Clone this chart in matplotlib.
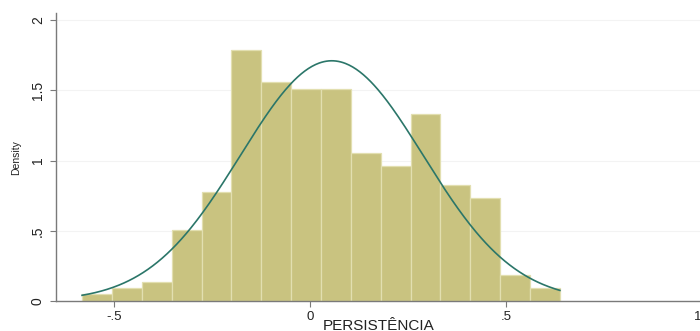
import numpy as np
import matplotlib
matplotlib.use("Agg")
import matplotlib.pyplot as plt

plt.rcParams['font.family'] = ['Liberation Sans', 'DejaVu Sans']

# Histogram data (density)
bin_start = -0.5825
bin_width = 0.0763
densities = [0.048, 0.090, 0.137, 0.505, 0.778, 1.790, 1.559, 1.511,
             1.511, 1.056, 0.963, 1.333, 0.826, 0.731, 0.185, 0.090]
# Normal fit parameters
fit_mean = 0.0555
fit_sd = 0.2333

xticks = [-0.5, 0, 0.5, 1]
xticklabels = ['-.5', '0', '.5', '1']
yticks = [0, 0.5, 1, 1.5, 2]
yticklabels = ['0', '.5', '1', '1.5', '2']

W, H = 700, 331
fig = plt.figure(figsize=(W / 100, H / 100), dpi=100)
ax = fig.add_axes([56 / W, 30 / H, 645.5 / W, 287.7 / H])

n = len(densities)
lefts = bin_start + bin_width * np.arange(n)
ax.bar(lefts, densities, width=bin_width, align='edge', color='#c9c380',
       edgecolor='#e2dfb0', linewidth=0.9, zorder=2)

xmin = bin_start
xmax = bin_start + bin_width * n
xs = np.linspace(xmin, xmax, 400)
ys = np.exp(-0.5 * ((xs - fit_mean) / fit_sd) ** 2) / (fit_sd * np.sqrt(2 * np.pi))
ax.plot(xs, ys, color='#2b7669', linewidth=1.2, zorder=3)

ax.set_xlim(-0.649, 1.0)
ax.set_ylim(0, 2.048)

ax.set_xticks(xticks)
ax.set_xticklabels(xticklabels, fontsize=9.5)
ax.get_xticklabels()[-1].set_horizontalalignment('right')
ax.set_yticks(yticks)
ax.set_yticklabels(yticklabels, fontsize=10, rotation=90, va='center')

for y in yticks[1:]:
    ax.axhline(y, color='#f3f3f3', linewidth=0.8, zorder=1)

for s in ['top', 'right']:
    ax.spines[s].set_visible(False)
for s in ['left', 'bottom']:
    ax.spines[s].set_color('#7a7a7a')
    ax.spines[s].set_linewidth(1.0)

ax.tick_params(axis='both', colors='#7a7a7a', length=4, width=0.8, labelcolor='#222222')
ax.tick_params(axis='x', pad=3.0)
ax.tick_params(axis='y', pad=4)

xl = ax.set_xlabel('PERSISTÊNCIA', fontsize=11, color='#222222')
xl.set_verticalalignment('baseline')
ax.xaxis.set_label_coords(0.5, -28.5 / 287.7)
ax.set_ylabel('Density', fontsize=7.5, labelpad=7, color='#222222')

fig.savefig('out.png', dpi=100, facecolor='white')
